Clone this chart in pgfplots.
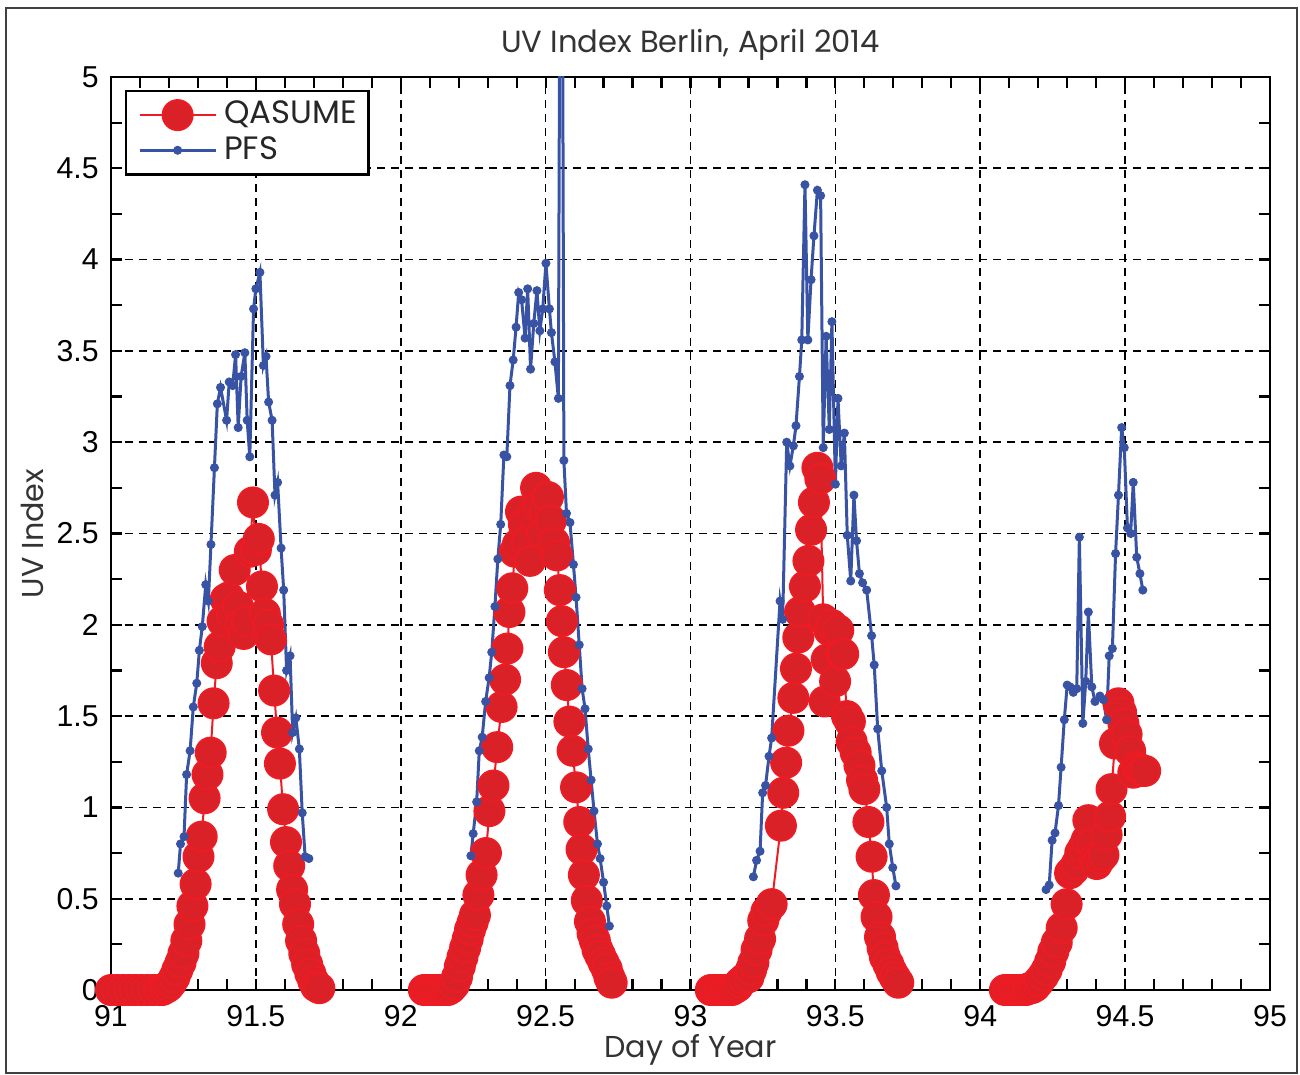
\documentclass[border=0pt]{standalone}
\usepackage{pgfplots}
\pgfplotsset{compat=1.18}
\usepackage{fontspec}
\setmainfont{Liberation Sans}
\newfontfamily\gothic{Poppins}
\definecolor{qfill}{RGB}{217,33,39}
\definecolor{qedge}{RGB}{237,28,36}
\definecolor{pblue}{RGB}{57,83,164}
\begin{document}
\begin{tikzpicture}
\useasboundingbox (-11.1mm,-8.4mm) rectangle (118.9mm,99.0mm);
\draw[black!75, line width=0.2mm] (-10.5mm,-8.3mm) rectangle (118.6mm,98.2mm);
\begin{axis}[
  at={(0,0)}, anchor=south west,
  scale only axis, width=115.9mm, height=91.3mm,
  xmin=91, xmax=95, ymin=0, ymax=5,
  xtick={91,91.5,...,95}, ytick={0,0.5,...,5},
  minor xtick={91,91.1,...,95}, minor ytick={0.25,0.75,...,4.75},
  tick pos=both, tick align=inside,
  major tick length=1.15mm, minor tick length=1.15mm,
  every tick/.style={black, line width=0.22mm},
  axis line style={black, line width=0.25mm},
  grid=major,
  major grid style={black, dash pattern=on 0.8mm off 0.6mm, line width=0.16mm},
  unbounded coords=jump,
  /pgf/number format/assume math mode=true,
  ticklabel style={font=\fontsize{8.6}{10}\selectfont},
  xticklabel style={yshift=-0.3mm},
  xlabel={Day of Year}, ylabel={UV Index},
  title={UV Index Berlin, April 2014},
  every axis x label/.style={at={(rel axis cs:0.5,0)}, anchor=center, yshift=-6.0mm, font=\gothic\fontsize{8.6}{10}\selectfont, text=black!80},
  every axis y label/.style={at={(rel axis cs:0,0.5)}, anchor=center, rotate=90, yshift=7.9mm, font=\gothic\fontsize{8.6}{10}\selectfont, text=black!80},
  every axis title/.style={at={(rel axis cs:0.5,1)}, anchor=center, yshift=3.2mm, font=\gothic\fontsize{8.7}{10}\selectfont, text=black!80},
  legend style={at={(rel axis cs:0.012,0.986)}, anchor=north west, draw=black, line width=0.25mm, font=\gothic\fontsize{9.2}{10}\selectfont, row sep=-0.7mm, inner xsep=0.5mm, inner ysep=0.3mm, text=black!85},
  legend cell align=left,
  legend image code/.code={\path (-0.7mm,0mm); \draw[mark repeat=2,mark phase=2,#1] plot coordinates {(0mm,0mm) (3.8mm,0mm) (7.6mm,0mm)};},
]
\addplot[qedge, line width=0.2mm, mark=*, mark size=1.5mm, mark options={fill=qfill, draw=qedge, line width=0.2mm}] coordinates {
(91.000,0) (91.021,0) (91.042,0) (91.063,0) (91.083,0) (91.104,0) (91.125,0) (91.146,0) (91.167,0) (91.177,0)
(91.188,0.01) (91.198,0.02) (91.208,0.04) (91.219,0.07) (91.229,0.11) (91.240,0.15) (91.250,0.20) (91.260,0.27)
(91.271,0.36) (91.281,0.46) (91.292,0.58) (91.302,0.73) (91.313,0.84) (91.323,1.05) (91.333,1.18) (91.344,1.30)
(91.354,1.57) (91.365,1.79) (91.375,1.88) (91.385,2.02) (91.396,2.14) (91.406,2.15) (91.417,2.05) (91.427,2.30)
(91.438,2.10) (91.448,2.00) (91.458,1.95) (91.469,2.02) (91.479,2.40) (91.490,2.67) (91.500,2.41) (91.510,2.47)
(91.521,2.21) (91.531,2.06) (91.542,2.00) (91.552,1.92) (91.563,1.64) (91.573,1.41) (91.583,1.24) (91.594,0.99)
(91.604,0.81) (91.615,0.68) (91.625,0.55) (91.635,0.47) (91.646,0.36) (91.656,0.27) (91.667,0.20) (91.677,0.14)
(91.688,0.09) (91.698,0.05) (91.708,0.02) (91.719,0.01)
(91.9,nan)
(92.080,0) (92.090,0) (92.100,0) (92.111,0) (92.121,0) (92.132,0) (92.142,0) (92.153,0) (92.163,0)
(92.173,0.01) (92.184,0.03) (92.194,0.07) (92.204,0.13) (92.213,0.18) (92.222,0.23) (92.231,0.28) (92.239,0.33)
(92.248,0.37) (92.256,0.41) (92.268,0.52) (92.279,0.63) (92.294,0.75) (92.306,0.98) (92.320,1.12) (92.333,1.33)
(92.348,1.55) (92.360,1.70) (92.368,1.87) (92.375,2.07) (92.385,2.20) (92.394,2.40) (92.404,2.44) (92.415,2.62)
(92.425,2.55) (92.435,2.45) (92.446,2.35) (92.456,2.60) (92.467,2.75) (92.477,2.65) (92.487,2.50) (92.498,2.62)
(92.508,2.70) (92.518,2.57) (92.529,2.45) (92.539,2.38) (92.549,2.19) (92.556,2.02) (92.563,1.85) (92.573,1.67)
(92.582,1.47) (92.593,1.31) (92.605,1.11) (92.616,0.92) (92.624,0.77) (92.632,0.63) (92.642,0.49) (92.653,0.375)
(92.662,0.31) (92.670,0.27) (92.679,0.22) (92.688,0.19) (92.700,0.15) (92.711,0.115) (92.720,0.07) (92.728,0.04)
(92.9,nan)
(93.070,0) (93.080,0) (93.090,0) (93.101,0) (93.111,0) (93.122,0) (93.132,0) (93.143,0) (93.153,0.01) (93.163,0.02)
(93.171,0.04) (93.185,0.06) (93.200,0.07) (93.209,0.11) (93.217,0.15) (93.228,0.22) (93.240,0.28) (93.251,0.38)
(93.262,0.43) (93.280,0.47) (93.312,0.90) (93.320,1.08) (93.330,1.245) (93.338,1.42) (93.355,1.60) (93.364,1.76)
(93.372,1.93) (93.378,2.07) (93.395,2.21) (93.407,2.35) (93.416,2.52) (93.426,2.67) (93.438,2.86) (93.448,2.80)
(93.458,2.03) (93.463,1.58) (93.470,1.81) (93.479,1.97) (93.487,2.00) (93.499,1.69) (93.510,1.97) (93.520,1.84)
(93.527,1.84) (93.540,1.50) (93.550,1.47) (93.556,1.36) (93.570,1.30) (93.583,1.23) (93.592,1.15) (93.600,1.10)
(93.614,0.92) (93.625,0.73) (93.633,0.52) (93.642,0.40) (93.654,0.29) (93.663,0.23) (93.671,0.18) (93.683,0.14)
(93.694,0.10) (93.705,0.07) (93.717,0.04)
(93.9,nan)
(94.085,0) (94.095,0) (94.105,0) (94.116,0) (94.126,0) (94.137,0) (94.147,0) (94.158,0) (94.168,0.01) (94.178,0.01)
(94.189,0.02) (94.199,0.04) (94.206,0.055) (94.218,0.08) (94.229,0.11) (94.241,0.155) (94.252,0.21) (94.264,0.26)
(94.281,0.34) (94.298,0.47) (94.310,0.64) (94.322,0.66) (94.333,0.69) (94.345,0.75) (94.356,0.78) (94.367,0.82)
(94.373,0.93) (94.385,0.80) (94.395,0.72) (94.402,0.69) (94.414,0.72) (94.425,0.74) (94.436,0.85) (94.448,0.95)
(94.453,1.10) (94.465,1.35) (94.477,1.57) (94.486,1.52) (94.494,1.46) (94.505,1.40) (94.517,1.31) (94.528,1.19)
(94.540,1.22) (94.550,1.21) (94.560,1.20) (94.569,1.20)
};
\addlegendentry{QASUME}
\addplot[pblue, line width=0.3mm, mark=*, mark size=0.4mm, mark options={fill=pblue, draw=pblue, line width=0.1mm}] coordinates {
(91.232,0.64) (91.240,0.80) (91.252,0.84) (91.261,1.18) (91.273,1.31) (91.284,1.55) (91.296,1.68) (91.305,1.86)
(91.315,1.99) (91.327,2.22) (91.336,2.13) (91.345,2.44) (91.357,2.86) (91.367,3.21) (91.378,3.30) (91.399,3.12)
(91.408,3.33) (91.420,3.31) (91.430,3.48) (91.439,3.08) (91.449,3.36) (91.462,3.49) (91.470,3.12) (91.479,2.92)
(91.492,3.73) (91.500,3.84) (91.514,3.93) (91.526,3.42) (91.535,3.47) (91.544,3.22) (91.556,3.12) (91.566,2.71)
(91.575,2.78) (91.587,2.42) (91.596,2.19) (91.606,1.75) (91.618,1.83) (91.627,1.41) (91.638,1.49) (91.650,1.32)
(91.660,0.97) (91.670,0.73) (91.683,0.72)
(91.9,nan)
(92.242,0.735) (92.250,0.856) (92.262,1.03) (92.271,1.31) (92.281,1.385) (92.293,1.58) (92.305,1.71) (92.314,1.85)
(92.325,2.10) (92.335,2.36) (92.345,2.55) (92.356,2.93) (92.366,2.92) (92.377,3.31) (92.388,3.45) (92.398,3.63)
(92.407,3.82) (92.417,3.78) (92.429,3.57) (92.438,3.84) (92.448,3.40) (92.459,3.65) (92.470,3.83) (92.480,3.61)
(92.490,3.73) (92.501,3.98) (92.513,3.73) (92.520,3.60) (92.532,3.44) (92.544,3.24) (92.554,8.0) (92.563,2.90)
(92.572,2.61) (92.584,2.56) (92.596,2.33) (92.605,2.15) (92.616,1.89) (92.626,1.65) (92.636,1.54) (92.647,1.32)
(92.657,1.15) (92.667,0.98) (92.679,0.80) (92.688,0.72) (92.700,0.59) (92.711,0.46) (92.720,0.35)
(92.9,nan)
(93.217,0.62) (93.228,0.71) (93.240,0.76) (93.249,1.08) (93.259,1.12) (93.271,1.28) (93.280,1.38) (93.309,2.13)
(93.318,2.03) (93.332,3.00) (93.343,2.87) (93.355,2.98) (93.364,3.09) (93.376,3.36) (93.384,3.56) (93.395,4.41)
(93.405,3.56) (93.416,3.89) (93.426,4.13) (93.438,4.38) (93.449,4.35) (93.458,2.97) (93.468,3.58) (93.479,3.07)
(93.488,3.66) (93.500,2.77) (93.509,3.24) (93.520,2.87) (93.531,3.05) (93.541,2.49) (93.553,2.24) (93.564,2.71)
(93.573,2.46) (93.583,2.28) (93.594,2.23) (93.608,2.19) (93.625,1.94) (93.634,1.78) (93.646,1.43) (93.660,1.20)
(93.677,1.00) (93.686,0.80) (93.698,0.67) (93.709,0.57)
(93.9,nan)
(94.227,0.55) (94.238,0.575) (94.248,0.82) (94.258,0.86) (94.270,1.01) (94.279,1.22) (94.290,1.48) (94.300,1.67)
(94.310,1.66) (94.321,1.63) (94.333,1.65) (94.342,2.48) (94.354,1.46) (94.364,1.69) (94.373,2.07) (94.385,1.66)
(94.396,1.58) (94.413,1.61) (94.425,1.59) (94.436,1.48) (94.445,1.83) (94.456,1.87) (94.467,2.39) (94.477,2.71)
(94.488,3.08) (94.497,2.97) (94.508,2.53) (94.519,2.50) (94.528,2.78) (94.540,2.37) (94.551,2.28) (94.561,2.19)
};
\addlegendentry{PFS}
\end{axis}
\end{tikzpicture}
\end{document}
